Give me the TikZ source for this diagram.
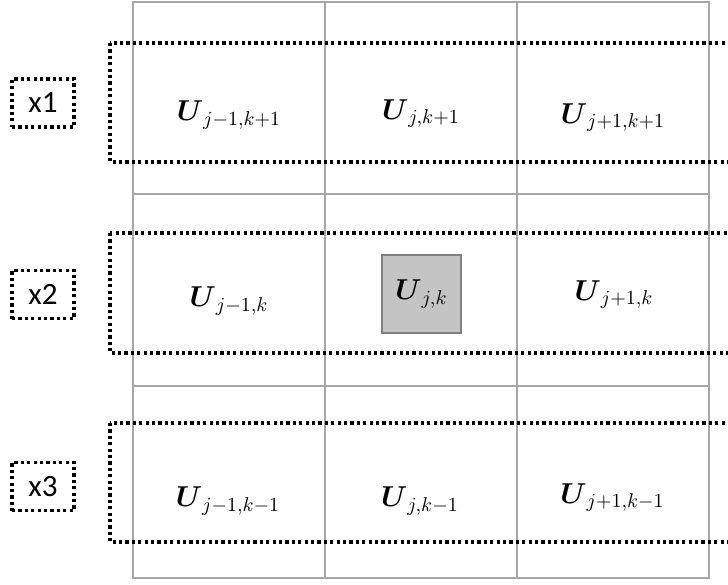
\documentclass[tikz,border=0pt]{standalone}
\usepackage{amsmath}
\usepackage{fontspec}
\newfontfamily\tagfont{Carlito}
\definecolor{gridgray}{RGB}{166,166,166}
\definecolor{boxgray}{RGB}{128,128,128}
\definecolor{cellfill}{RGB}{196,196,196}
\begin{document}
\begin{tikzpicture}[
x=0.5pt,y=-0.5pt,
cellline/.style={draw=gridgray,line width=1pt},
rowframe/.style={draw,line width=1.7pt,dash pattern=on 1.6pt off 1.6pt},
tag/.style={draw,line width=1.7pt,dash pattern=on 1.6pt off 1.6pt,minimum width=31pt,minimum height=24pt,inner sep=0pt,font=\tagfont\fontsize{15.5}{18}\selectfont},
val/.style={anchor=base,inner sep=0pt,font=\fontsize{14.4}{17}\selectfont},
centre/.style={draw=boxgray,fill=cellfill,line width=0.8pt,minimum width=39.5pt,minimum height=39pt,inner sep=0pt,font=\fontsize{14.4}{17}\selectfont}
]
\useasboundingbox (0,0) rectangle (728,584);
\clip (0,0) rectangle (728,584);
% grid of cells
\draw[cellline] (133,2) rectangle (709,578);
\draw[cellline] (325,2) -- (325,578);
\draw[cellline] (517,2) -- (517,578);
\draw[cellline] (133,194) -- (709,194);
\draw[cellline] (133,386) -- (709,386);
% dotted row frames
\draw[rowframe] (110,43) rectangle (740,162);
\draw[rowframe] (110,233) rectangle (740,353);
\draw[rowframe] (110,423) rectangle (740,542);
% row tags
\node[tag] (x1) at (43,103) {x1};
\node[tag] (x2) at (43,294.5) {x2};
\node[tag] (x3) at (43,486.5) {x3};
% cell values
\node[val] (u11) at (229,120.7) {$\boldsymbol{U}_{j-1,k+1}$};
\node[val] (u12) at (421,119) {$\boldsymbol{U}_{j,k+1}$};
\node[val] (u13) at (613,123) {$\boldsymbol{U}_{j+1,k+1}$};
\node[val] (u21) at (229,306.7) {$\boldsymbol{U}_{j-1,k}$};
\node[centre] (u22) at (421.5,294) {$\boldsymbol{U}_{j,k}$};
\node[val] (u23) at (614,300) {$\boldsymbol{U}_{j+1,k}$};
\node[val] (u31) at (228,506.7) {$\boldsymbol{U}_{j-1,k-1}$};
\node[val] (u32) at (420,506.7) {$\boldsymbol{U}_{j,k-1}$};
\node[val] (u33) at (612.5,503) {$\boldsymbol{U}_{j+1,k-1}$};
\end{tikzpicture}
\end{document}
